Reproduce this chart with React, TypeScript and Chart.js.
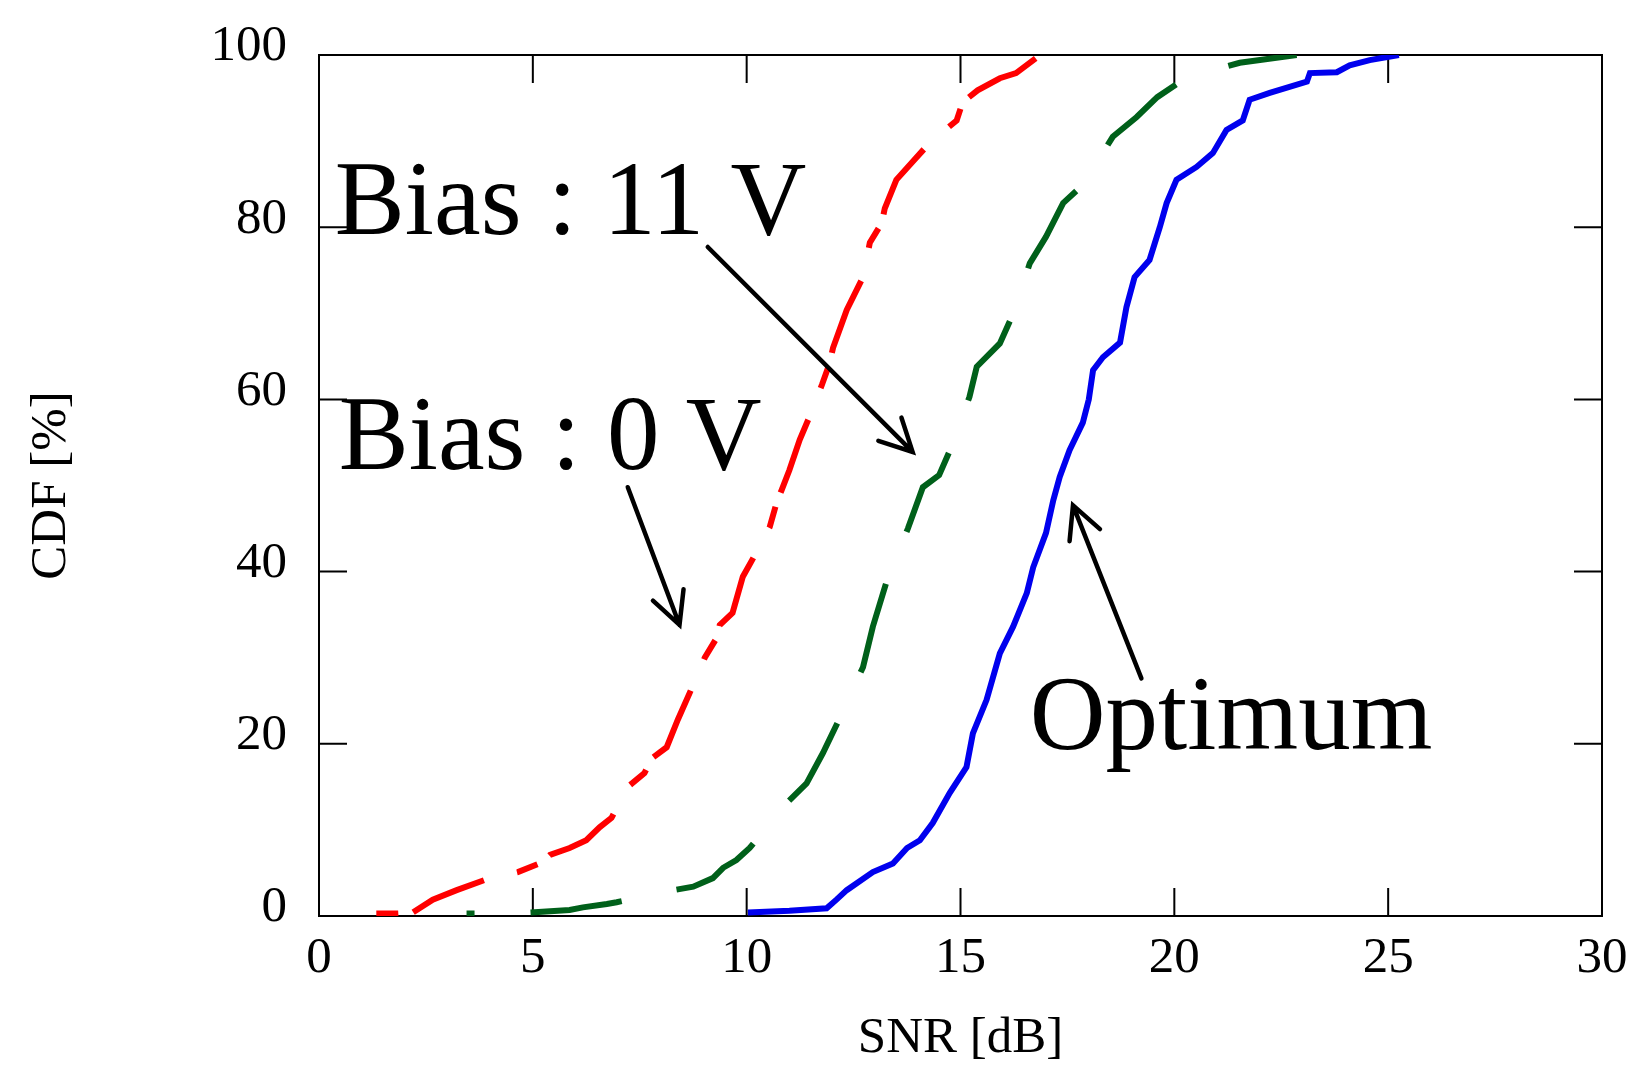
import { useEffect, useRef } from 'react';
import { Chart, registerables } from 'chart.js';

Chart.register(...registerables);

const W = 1645;
const H = 1086;
const FONT = '"Liberation Serif", "Times New Roman", serif';

// SNR [dB] / CDF [%]
const bias0Snr = [1.34, 1.84, 2.19, 2.66, 3.22, 3.88, 4.65, 5.2, 5.4, 5.86, 6.25, 6.56, 6.84, 7.22, 7.61, 7.78, 8.13, 8.39, 8.72, 9.02, 9.3, 9.37, 9.67, 9.91, 10.19, 10.54, 10.7, 10.82, 11.0, 11.24, 11.47, 11.76, 11.94, 12.02, 12.34, 12.72, 12.88, 13.16, 13.23, 13.5, 13.88, 14.28, 14.91, 15.05, 15.4, 15.92, 16.3, 16.86];
const bias0Cdf = [0.3, 0.3, 0.4, 1.9, 3.0, 4.2, 5.1, 6.2, 7.1, 7.9, 8.8, 10.3, 11.4, 15.0, 16.6, 18.3, 19.6, 22.8, 26.5, 30.0, 32.3, 33.8, 35.2, 39.4, 41.9, 45.2, 48.0, 49.5, 51.8, 55.3, 58.0, 61.7, 64.2, 66.0, 70.4, 74.2, 78.2, 80.5, 82.2, 85.5, 87.6, 89.8, 92.4, 94.5, 95.9, 97.3, 97.9, 100];

const bias11Snr = [3.45, 3.64, 4.88, 5.86, 6.17, 6.73, 6.96, 8.28, 8.75, 9.21, 9.45, 9.76, 10.07, 10.93, 11.4, 11.78, 12.13, 12.72, 12.95, 13.27, 13.77, 14.12, 14.5, 14.79, 15.21, 15.38, 15.92, 16.2, 16.62, 17.0, 17.4, 17.86, 18.56, 19.12, 19.6, 20.29, 21.53, 22.86];
const bias11Cdf = [0.3, 0.3, 0.4, 0.7, 1.0, 1.4, 1.6, 3.0, 3.4, 4.4, 5.6, 6.5, 7.9, 13.1, 15.4, 18.9, 22.5, 28.9, 33.6, 38.8, 45.0, 49.8, 51.2, 54.5, 60.3, 63.8, 66.5, 69.6, 75.8, 78.9, 82.8, 84.9, 90.5, 92.8, 95.1, 97.4, 99.1, 100];

const optimumSnr = [10.03, 11.0, 11.87, 12.1, 12.34, 12.95, 13.42, 13.75, 14.05, 14.35, 14.75, 15.14, 15.29, 15.61, 15.92, 16.23, 16.55, 16.7, 17.0, 17.17, 17.32, 17.55, 17.86, 18.0, 18.1, 18.33, 18.73, 18.88, 19.07, 19.42, 19.66, 19.82, 20.05, 20.52, 20.9, 21.22, 21.6, 21.76, 22.23, 23.1, 23.17, 23.8, 24.1, 24.57, 25.25];
const optimumCdf = [0.4, 0.6, 0.9, 1.9, 3.0, 5.1, 6.1, 7.9, 8.8, 10.8, 14.3, 17.3, 21.2, 25.1, 30.5, 33.6, 37.5, 40.5, 44.5, 48.3, 51.0, 54.1, 57.3, 60.0, 63.4, 64.9, 66.6, 70.7, 74.2, 76.2, 80.0, 82.8, 85.5, 87.0, 88.6, 91.3, 92.4, 94.8, 95.6, 96.9, 97.9, 98.0, 98.8, 99.4, 100];

const xTicks = [0, 5, 10, 15, 20, 25, 30];
const yTicks = [0, 20, 40, 60, 80, 100];

// annotation anchors in data units
const notes = [
  { text: 'Bias : 11 V', x: 0.37, y: 79.2 },
  { text: 'Bias : 0 V', x: 0.46, y: 51.9 },
  { text: 'Optimum', x: 16.62, y: 19.4 },
];
const arrows = [
  { from: [9.09, 77.7], to: [13.88, 53.9] },
  { from: [7.22, 49.8], to: [8.43, 33.8] },
  { from: [19.23, 27.6], to: [17.63, 47.7] },
];

const toPoints = (xs: number[], ys: number[]) => xs.map((x, i) => ({ x, y: ys[i] }));

// box frame with inward ticks on all four sides, plus the text labels and arrows
const framePlugin = {
  id: 'frame',
  beforeDatasetsDraw(chart: any) {
    const { ctx, chartArea: a, scales } = chart;
    ctx.save();
    ctx.strokeStyle = '#000';
    ctx.lineWidth = 2;
    ctx.strokeRect(a.left, a.top, a.right - a.left, a.bottom - a.top);
    const len = 28;
    ctx.beginPath();
    xTicks.slice(1, -1).forEach((v) => {
      const px = scales.x.getPixelForValue(v);
      ctx.moveTo(px, a.bottom);
      ctx.lineTo(px, a.bottom - len);
      ctx.moveTo(px, a.top);
      ctx.lineTo(px, a.top + len);
    });
    yTicks.slice(1, -1).forEach((v) => {
      const py = scales.y.getPixelForValue(v);
      ctx.moveTo(a.left, py);
      ctx.lineTo(a.left + len, py);
      ctx.moveTo(a.right, py);
      ctx.lineTo(a.right - len, py);
    });
    ctx.stroke();
    ctx.restore();
  },
  afterDatasetsDraw(chart: any) {
    const { ctx, scales } = chart;
    const sx = scales.x;
    const sy = scales.y;
    ctx.save();
    ctx.fillStyle = '#000';
    ctx.font = `105px ${FONT}`;
    ctx.textAlign = 'left';
    ctx.textBaseline = 'alphabetic';
    notes.forEach((n) => ctx.fillText(n.text, sx.getPixelForValue(n.x), sy.getPixelForValue(n.y)));

    ctx.strokeStyle = '#000';
    ctx.lineWidth = 4.5;
    ctx.lineCap = 'round';
    arrows.forEach((ar) => {
      const x1 = sx.getPixelForValue(ar.from[0]);
      const y1 = sy.getPixelForValue(ar.from[1]);
      const x2 = sx.getPixelForValue(ar.to[0]);
      const y2 = sy.getPixelForValue(ar.to[1]);
      const ang = Math.atan2(y2 - y1, x2 - x1);
      const head = 36;
      const spread = (27 * Math.PI) / 180;
      ctx.beginPath();
      ctx.moveTo(x1, y1);
      ctx.lineTo(x2, y2);
      ctx.moveTo(x2 - head * Math.cos(ang - spread), y2 - head * Math.sin(ang - spread));
      ctx.lineTo(x2, y2);
      ctx.lineTo(x2 - head * Math.cos(ang + spread), y2 - head * Math.sin(ang + spread));
      ctx.stroke();
    });
    ctx.restore();
  },
};

export default function App() {
  const canvasRef = useRef<HTMLCanvasElement | null>(null);

  useEffect(() => {
    if (!canvasRef.current) return;
    const tickFont = { family: FONT, size: 51 };
    const chart = new Chart(canvasRef.current, {
      type: 'scatter',
      data: {
        datasets: [
          {
            label: 'Bias : 0 V',
            data: toPoints(bias0Snr, bias0Cdf),
            showLine: true,
            borderColor: '#ff0000',
            borderWidth: 6,
            borderDash: [22, 15, 78, 34],
            pointRadius: 0,
          },
          {
            label: 'Bias : 11 V',
            data: toPoints(bias11Snr, bias11Cdf),
            showLine: true,
            borderColor: '#00601a',
            borderWidth: 6,
            borderDash: [92, 56],
            borderDashOffset: 84,
            pointRadius: 0,
          },
          {
            label: 'Optimum',
            data: toPoints(optimumSnr, optimumCdf),
            showLine: true,
            borderColor: '#0000ee',
            borderWidth: 6,
            pointRadius: 0,
          },
        ],
      },
      options: {
        responsive: false,
        animation: false,
        layout: { padding: { left: 0, top: 55, right: 43, bottom: 0 } },
        plugins: { legend: { display: false }, tooltip: { enabled: false } },
        scales: {
          x: {
            type: 'linear',
            min: 0,
            max: 30,
            afterBuildTicks: (s: any) => { s.ticks = xTicks.map((value) => ({ value })); },
            afterFit: (s: any) => { s.height = 170; s.paddingLeft = 0; s.paddingRight = 0; },
            grid: { display: false, drawTicks: false },
            border: { display: false },
            ticks: { font: tickFont, color: '#000', padding: 12, maxRotation: 0 },
            title: { display: true, text: 'SNR [dB]', font: tickFont, color: '#000', padding: { top: 0, bottom: 17 } },
          },
          y: {
            type: 'linear',
            min: 0,
            max: 100,
            afterBuildTicks: (s: any) => { s.ticks = yTicks.map((value) => ({ value })); },
            afterFit: (s: any) => { s.width = 319; s.paddingTop = 0; s.paddingBottom = 0; },
            grid: { display: false, drawTicks: false },
            border: { display: false },
            ticks: { font: tickFont, color: '#000', padding: 32, labelOffset: -8 },
            title: { display: true, text: 'CDF [%]', font: tickFont, color: '#000', padding: { top: 21, bottom: 0 } },
          },
        },
      },
      plugins: [framePlugin],
    });
    return () => chart.destroy();
  }, []);

  return (
    <div style={{ position: 'absolute', left: 0, top: 0, width: W, height: H, background: '#fff' }}>
      <canvas ref={canvasRef} width={W} height={H} />
    </div>
  );
}
